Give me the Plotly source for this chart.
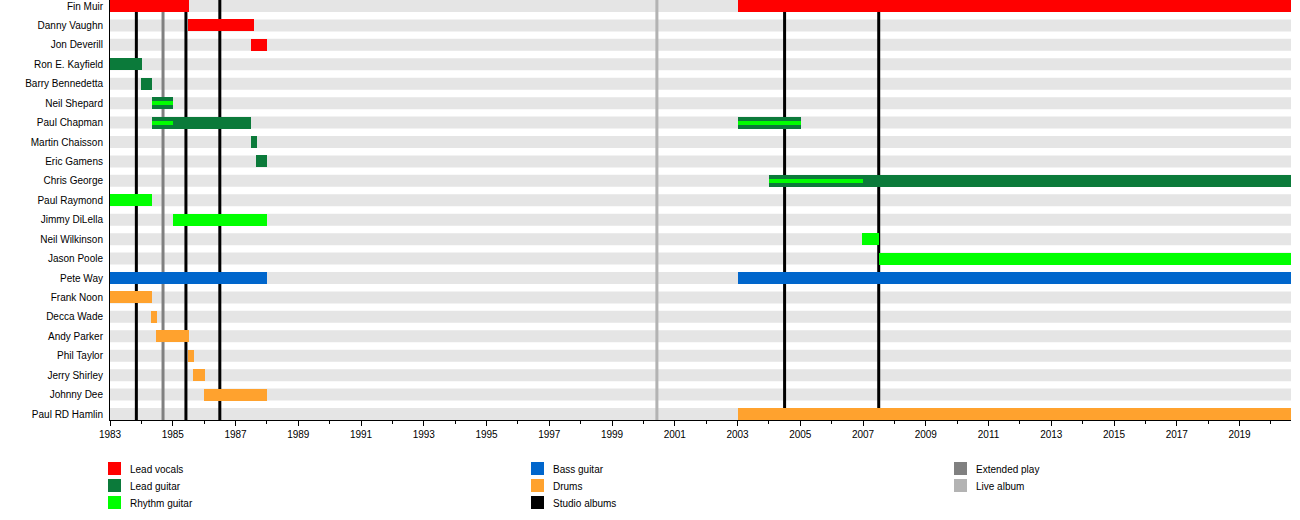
import plotly.graph_objects as go

# Band members, top to bottom
members = ["Fin Muir", "Danny Vaughn", "Jon Deverill", "Ron E. Kayfield", "Barry Bennedetta",
           "Neil Shepard", "Paul Chapman", "Martin Chaisson", "Eric Gamens", "Chris George",
           "Paul Raymond", "Jimmy DiLella", "Neil Wilkinson", "Jason Poole", "Pete Way",
           "Frank Noon", "Decca Wade", "Andy Parker", "Phil Taylor", "Jerry Shirley",
           "Johnny Dee", "Paul RD Hamlin"]

START = 1983.0
END = 2020.64

# (member, from, to) for each role
lead_vocals = [("Fin Muir", 1983.0, 1985.52), ("Fin Muir", 2003.0, END),
               ("Danny Vaughn", 1985.48, 1987.59), ("Jon Deverill", 1987.49, 1988.0)]
lead_guitar = [("Ron E. Kayfield", 1983.0, 1984.02), ("Barry Bennedetta", 1983.99, 1984.34),
               ("Neil Shepard", 1984.34, 1985.0), ("Paul Chapman", 1984.34, 1987.5),
               ("Paul Chapman", 2003.0, 2005.02), ("Martin Chaisson", 1987.49, 1987.69),
               ("Eric Gamens", 1987.65, 1988.0), ("Chris George", 2004.0, END)]
rhythm_guitar = [("Paul Raymond", 1983.0, 1984.34), ("Jimmy DiLella", 1985.0, 1988.0),
                 ("Neil Wilkinson", 2006.97, 2007.51), ("Jason Poole", 2007.51, END)]
# rhythm guitar played alongside lead guitar (thin inner stripe)
rhythm_extra = [("Neil Shepard", 1984.34, 1985.0), ("Paul Chapman", 1984.34, 1985.0),
                ("Paul Chapman", 2003.0, 2005.02), ("Chris George", 2004.0, 2007.0)]
bass_guitar = [("Pete Way", 1983.0, 1988.0), ("Pete Way", 2003.0, END)]
drums = [("Frank Noon", 1983.0, 1984.34), ("Decca Wade", 1984.31, 1984.5),
         ("Andy Parker", 1984.47, 1985.52), ("Phil Taylor", 1985.48, 1985.67),
         ("Jerry Shirley", 1985.65, 1986.03), ("Johnny Dee", 1986.0, 1988.0),
         ("Paul RD Hamlin", 2003.0, END)]

studio_albums = [1983.84, 1985.42, 1986.5, 2004.5, 2007.5]
extended_plays = [1984.69]
live_albums = [2000.43]

tick_years = list(range(1983, 2021, 2))

colors = {"Lead vocals": "#ff0000", "Lead guitar": "#0b7a3a", "Rhythm guitar": "#00ff00",
          "Bass guitar": "#0066cc", "Drums": "#ffa22e", "Studio albums": "#000000",
          "Extended play": "#808080", "Live album": "#b3b3b3"}

BAR_W = 0.618
INNER_W = 0.21
Y_TOP, Y_BOTTOM = -0.309, len(members) - 1 + 0.309

fig = go.Figure()


def add_role(periods, color, width):
    rows = [members.index(p[0]) for p in periods]
    fig.add_trace(go.Bar(orientation="h", y=rows,
                         x=[p[2] - p[1] for p in periods], base=[p[1] for p in periods],
                         width=width, marker=dict(color=color, line=dict(width=0)),
                         showlegend=False, hoverinfo="skip"))


add_role(lead_vocals, colors["Lead vocals"], BAR_W)
add_role(lead_guitar, colors["Lead guitar"], BAR_W)
add_role(rhythm_guitar, colors["Rhythm guitar"], BAR_W)
add_role(bass_guitar, colors["Bass guitar"], BAR_W)
add_role(drums, colors["Drums"], BAR_W)
add_role(rhythm_extra, colors["Rhythm guitar"], INNER_W)

# grey background stripe for every row
for i in range(len(members)):
    fig.add_shape(type="rect", xref="x", yref="y", x0=START, x1=END,
                  y0=i - BAR_W / 2, y1=i + BAR_W / 2, fillcolor="#e5e5e5",
                  line_width=0, layer="below")

# release lines, over the stripes but under the bars
for dates, name in [(live_albums, "Live album"), (extended_plays, "Extended play"),
                    (studio_albums, "Studio albums")]:
    for d in dates:
        fig.add_shape(type="line", xref="x", yref="y", x0=d, x1=d, y0=Y_TOP, y1=Y_BOTTOM,
                      line=dict(color=colors[name], width=3), layer="below")

# legend drawn by hand in three columns
legend_cols = [["Lead vocals", "Lead guitar", "Rhythm guitar"],
               ["Bass guitar", "Drums", "Studio albums"],
               ["Extended play", "Live album"]]
plot_w, plot_h = 1181, 420
for c, col in enumerate(legend_cols):
    px = 108 + c * 423
    for r, name in enumerate(col):
        py = 462 + r * 17
        fig.add_shape(type="rect", xref="paper", yref="paper",
                      x0=(px - 110) / plot_w, x1=(px + 13 - 110) / plot_w,
                      y0=(plot_h - py) / plot_h, y1=(plot_h - py - 13) / plot_h,
                      fillcolor=colors[name], line_width=0)
        fig.add_annotation(xref="paper", yref="paper", x=(px + 20 - 110) / plot_w,
                           y=(plot_h - py - 7.5) / plot_h, text=name, showarrow=False,
                           xanchor="left", yanchor="middle",
                           font=dict(size=10, color="#000000"))

fig.update_layout(
    width=1300, height=520,
    margin=dict(l=110, r=9, t=0, b=100),
    plot_bgcolor="white", paper_bgcolor="white",
    barmode="overlay", bargap=0,
    font=dict(family="Liberation Sans, Arial, sans-serif", size=10, color="#000000"),
    showlegend=False,
)
fig.update_xaxes(range=[START, END], tickvals=tick_years, ticktext=[str(y) for y in tick_years],
                 showgrid=False, zeroline=False, showline=True, linecolor="black", linewidth=1,
                 ticks="outside", ticklen=5, tickcolor="black", automargin=False,
                 minor=dict(tickvals=list(range(1984, 2021, 2)), ticks="outside", ticklen=3,
                            tickcolor="black", showgrid=False))
fig.update_yaxes(range=[Y_BOTTOM, Y_TOP], tickvals=list(range(len(members))),
                 ticktext=members, showgrid=False, zeroline=False, showline=True,
                 linecolor="black", linewidth=1, ticks="outside", ticklen=0,
                 ticklabelstandoff=4, automargin=False)

# drop the browser's default page margin so the figure sits at the window corner
fig.write_html("out.html", config={"displayModeBar": False},
               post_script="document.body.style.margin = '0';")
